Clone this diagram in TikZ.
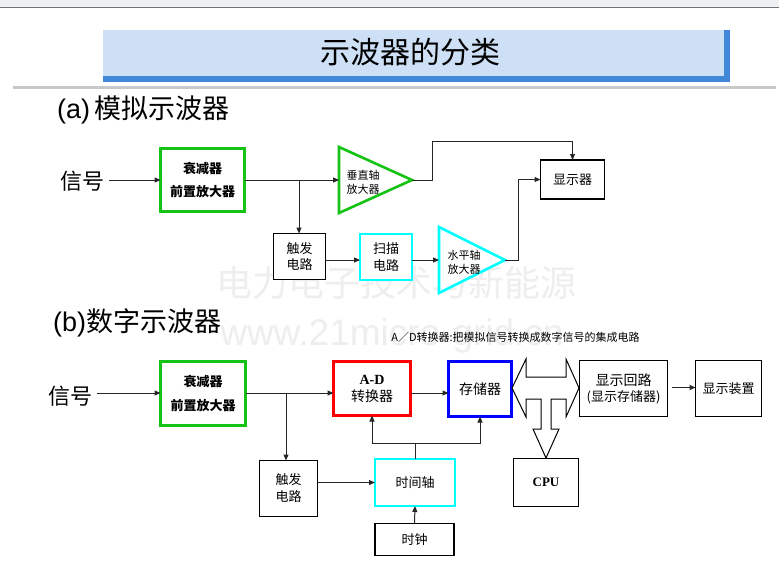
\documentclass[tikz,border=0pt]{standalone}
\usepackage{fontspec}
\setmainfont{Liberation Sans}
\newfontfamily\cjk{Noto Sans CJK SC}
\newfontfamily\serifb{Liberation Serif}
\usetikzlibrary{arrows.meta}
\definecolor{boxgreen}{RGB}{20,195,20}
\definecolor{boxcyan}{RGB}{0,255,255}
\definecolor{boxred}{RGB}{255,0,0}
\definecolor{boxblue}{RGB}{0,0,255}
\definecolor{titlefill}{RGB}{206,224,245}
\definecolor{titleblue}{RGB}{64,136,216}
\definecolor{topband}{RGB}{238,240,244}
\definecolor{sepgray}{RGB}{200,200,200}
\definecolor{wmgray}{RGB}{238,238,238}
\tikzset{
  box/.style={draw=black, line width=1.2pt, fill=white, inner sep=0pt, outer sep=0pt, align=center,
              font=\cjk\fontsize{13}{16}\selectfont},
  gbox/.style={box, draw=boxgreen, line width=2.6pt},
  cbox/.style={box, draw=boxcyan, line width=2.6pt},
  rbox/.style={box, draw=boxred, line width=2.6pt},
  bbox/.style={box, draw=boxblue, line width=2.6pt},
  gtri/.style={draw=boxgreen, line width=2.6pt, fill=white, line join=miter},
  ctri/.style={draw=boxcyan, line width=2.6pt, fill=white, line join=miter},
  tritext/.style={align=center, inner sep=0pt, font=\cjk\fontsize{11}{14}\selectfont},
  sig/.style={inner sep=5pt, font=\cjk\fontsize{22}{22}\selectfont},
  head/.style={anchor=west, inner sep=0pt, font=\fontsize{27}{27}\selectfont},
  wm/.style={text=wmgray, inner sep=0pt},
  ln/.style={line width=1pt, draw=black!85},
  arr/.style={ln, -{Triangle[length=6pt,width=5pt]}},
}
\begin{document}
\begin{tikzpicture}[x=1pt,y=-1pt]
\useasboundingbox (0,0) rectangle (779,560);
\fill[white] (0,0) rectangle (779,560);
\fill[topband] (0,0) rectangle (779,7);
\draw[black!55, line width=0.8pt] (0,7) -- (779,7);

% title
\fill[titleblue] (103,30) rectangle (730,82);
\fill[titlefill] (103,30) rectangle (724,76);
\node[inner sep=0pt, font=\cjk\fontsize{30}{30}\selectfont] (title) at (410,52) {示波器的分类};
\fill[sepgray] (13,86) rectangle (776,89);

% watermarks
\node[wm, font=\cjk\fontsize{36}{36}\selectfont] (wm1) at (396,283) {电力电子技术与新能源};
\node[wm, font=\fontsize{37}{37}\selectfont] (wm2) at (392,336) {www.21micro-grid.cn};

% ---------- (a) ----------
\node[head] (ha) at (57,110) {(a)\hspace{4pt}\cjk 模拟示波器};
\node[sig] (sig1) at (82,181) {信号};
\node[gbox, minimum width=84pt, minimum height=63pt, font=\cjk\bfseries\fontsize{13}{23}\selectfont] (pre1) at (202.5,180) {衰减器\\前置放大器};
\coordinate (va1) at (339,147);
\coordinate (va2) at (339,213);
\coordinate (vapex) at (412,180);
\coordinate (vin) at (339,180);
\draw[gtri] (va1) -- (vapex) -- (va2) -- cycle;
\node[tritext] (vt) at (363,182) {垂直轴\\放大器};
\node[box, minimum width=64pt, minimum height=39pt] (disp1) at (572.5,179.5) {显示器};
\node[box, minimum width=52pt, minimum height=46pt] (trig1) at (299.5,256.5) {触发\\电路};
\node[cbox, minimum width=52pt, minimum height=46pt, font=\cjk\fontsize{13}{17}\selectfont] (scan1) at (386,257) {扫描\\电路};
\coordinate (ha1) at (439,227);
\coordinate (ha2) at (439,293);
\coordinate (hapex) at (505,260);
\coordinate (hin) at (439,260);
\draw[ctri] (ha1) -- (hapex) -- (ha2) -- cycle;
\node[tritext] (ht) at (464,262) {水平轴\\放大器};

\draw[arr] (sig1.east |- pre1.west) -- (pre1.west);
\draw[arr] (pre1.east) -- (vin);
\coordinate (b1) at (299,180);
\draw[arr] (b1) -- (b1 |- trig1.north);
\coordinate (c1) at (432,141);
\draw[arr] (vapex) -| (c1) -| (disp1.north);
\draw[arr] (trig1.east |- hin) -- (scan1.west |- hin);
\draw[arr] (scan1.east |- hin) -- (hin);
\draw[arr] (hapex) -- ++(13,0) |- (disp1.west);

% ---------- (b) ----------
\node[head] (hb) at (53,323) {(b)\cjk 数字示波器};
\node[inner sep=0pt, font=\cjk\fontsize{11}{11}\selectfont] (note) at (515.5,337) {A／D转换器:把模拟信号转换成数字信号的集成电路};
\node[sig] (sig2) at (70,396) {信号};
\node[gbox, minimum width=85pt, minimum height=64pt, font=\cjk\bfseries\fontsize{13}{24}\selectfont] (pre2) at (203,393.5) {衰减器\\前置放大器};
\node[rbox, minimum width=77pt, minimum height=54pt, font=\cjk\fontsize{14}{17}\selectfont] (ad) at (372,388.5) {{\serifb\bfseries A-D}\\转换器};
\node[bbox, minimum width=63pt, minimum height=55pt, font=\cjk\fontsize{14}{17}\selectfont] (mem) at (480,389) {存储器};
\node[box, minimum width=88pt, minimum height=56pt] (disp2) at (623.5,388.5) {{\fontsize{14}{16}\selectfont 显示回路}\\(显示存储器)};
\node[box, minimum width=66pt, minimum height=56pt] (disp3) at (728.5,388.5) {显示装置};
\node[box, minimum width=65pt, minimum height=48pt, font=\serifb\bfseries\fontsize{13}{13}\selectfont] (cpu) at (546,482.5) {CPU};
\node[box, minimum width=58pt, minimum height=56pt, font=\cjk\fontsize{13}{17}\selectfont] (trig2) at (288.5,488.5) {触发\\电路};
\node[cbox, minimum width=80pt, minimum height=47pt] (tb) at (415,482.5) {时间轴};
\node[box, minimum width=79pt, minimum height=32pt] (clk) at (414.5,539.5) {时钟};

% bus arrow
\coordinate (bl) at (512,388);
\coordinate (br) at (579,388);
\coordinate (bd) at (546,458);
\draw[line width=1pt, fill=white, line join=miter]
  (bl) -- (526,359) -- (526,377) -- (566,377) -- (566,359) -- (br) -- (566,417) -- (566,399)
  -- (551,399) -- (551,429) -- (559,429) -- (bd) -- (533,429) -- (541,429) -- (541,399)
  -- (526,399) -- (526,417) -- cycle;

\coordinate (b2) at (286,393);
\draw[arr] (sig2.east |- b2) -- (pre2.west |- b2);
\draw[arr] (pre2.east |- b2) -- (ad.west |- b2);
\draw[arr] (b2) -- (b2 |- trig2.north);
\draw[arr] (ad.east |- b2) -- (mem.west |- b2);
\draw[arr] (disp2.east) ++(4,-1) -- ([yshift=1pt]disp3.west);
\draw[arr] (trig2.east |- tb.west) -- (tb.west);
\draw[arr] (clk.north) -- (tb.south);
\draw[ln] (tb.north) -- ++(0,-16) coordinate (j);
\draw[arr] (j) -| (ad.south);
\draw[arr] (j) -| (mem.south);
\end{tikzpicture}
\end{document}
